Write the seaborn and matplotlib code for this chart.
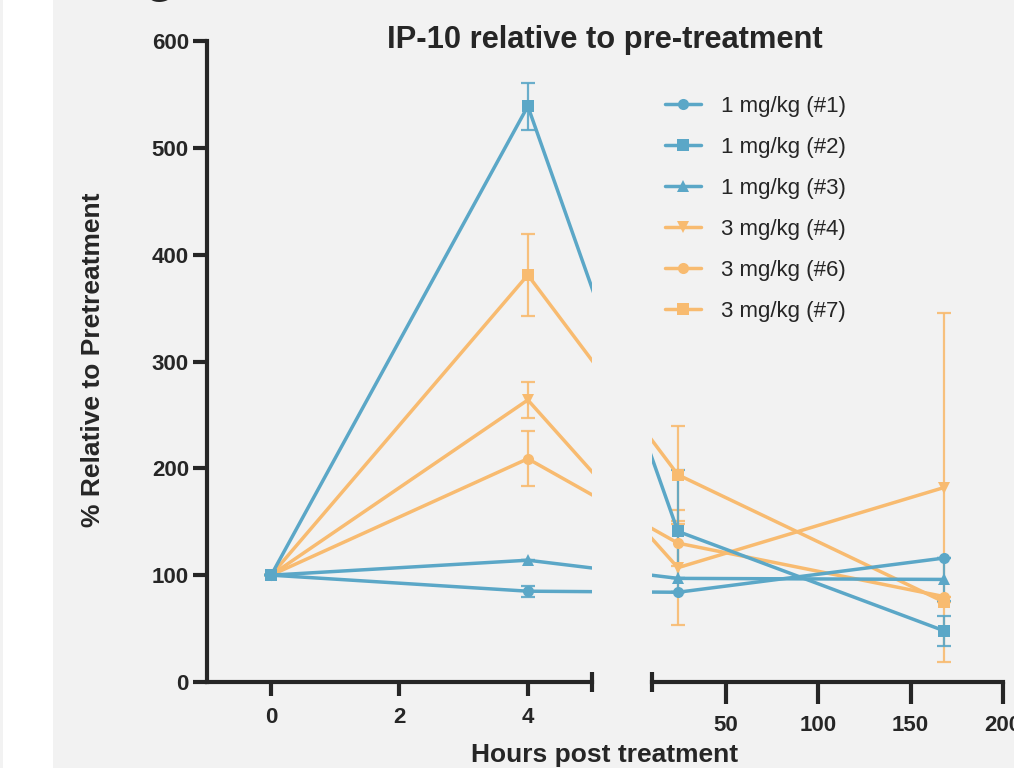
import numpy as np
import pandas as pd
import seaborn as sns
import matplotlib
import matplotlib.pyplot as plt
from matplotlib.lines import Line2D
from matplotlib.patches import Rectangle

# data (hours post treatment, % of pretreatment, error)
hours = [0, 4, 24, 168]
series = ["1 mg/kg (#1)", "1 mg/kg (#2)", "1 mg/kg (#3)",
          "3 mg/kg (#4)", "3 mg/kg (#6)", "3 mg/kg (#7)"]
s1 = [100, 85, 84, 116]
s2 = [100, 539, 141, 48]
s3 = [100, 114, 97, 96]
s4 = [100, 264, 107, 182]
s6 = [100, 209, 130, 80]
s7 = [100, 381, 194, 75]
e1 = [0, 5, 0, 0]
e2 = [0, 22, 57, 14]
e3 = [0, 0, 0, 20]
e4 = [0, 17, 54, 163]
e6 = [0, 26, 21, 0]
e7 = [0, 38, 46, 0]

values = [s1, s2, s3, s4, s6, s7]
errors = [e1, e2, e3, e4, e6, e7]
blue = "#5ba7c7"
orange = "#f8bb70"
colors = [blue, blue, blue, orange, orange, orange]
markers = ["o", "s", "^", "v", "o", "s"]

rows = []
for name, v, e in zip(series, values, errors):
    for h, y, err in zip(hours, v, e):
        rows.append((name, h, y, err))
df = pd.DataFrame(rows, columns=["series", "hours", "value", "err"])

# broken x axis: 0-5 h on the left segment, 10-200 h compressed on the right,
# lines crossing the gap are straight in screen space (like GraphPad)
W, H = 1014, 768
PX = 385 / 6.0             # pixels per hour on the left segment
GAP = 60 / PX              # gap between segments
K = 351 / (190 * PX)       # compression of the right segment


def fwd(h):
    h = np.asarray(h, dtype=float)
    return np.where(h <= 5, h,
                    np.where(h >= 10, 5 + GAP + (h - 10) * K,
                             5 + (h - 5) * GAP / 5))


def inv(u):
    u = np.asarray(u, dtype=float)
    return np.where(u <= 5, u,
                    np.where(u >= 5 + GAP, 10 + (u - 5 - GAP) / K,
                             5 + (u - 5) * 5 / GAP))


sns.set_style("ticks")
bg = "#f2f2f2"
plt.rcParams['font.family'] = ['Liberation Sans', 'DejaVu Sans']
plt.rcParams['axes.facecolor'] = bg

fig = plt.figure(figsize=(W / 100, H / 100), dpi=100, facecolor=bg)
fig.patches.append(Rectangle((3 / W, 0), 50 / W, 1, transform=fig.transFigure,
                             facecolor="white", edgecolor="none", zorder=0))

axL = fig.add_axes([207 / W, 86 / H, 385 / W, 641 / H])
axR = fig.add_axes([652 / W, 86 / H, 351 / W, 641 / H])

pal = dict(zip(series, colors))
mk = dict(zip(series, markers))

for ax in (axL, axR):
    ax.set_facecolor(bg)
    # error bars first, reverse order so #1 ends up on top
    for name, v, e, c in reversed(list(zip(series, values, errors, colors))):
        ax.errorbar(hours, v, yerr=e, fmt="none", ecolor=c, elinewidth=1.6,
                    capsize=5, capthick=1.6, alpha=0.9, zorder=2)
    sns.lineplot(data=df, x="hours", y="value", hue="series", style="series",
                 hue_order=series[::-1], style_order=series[::-1],
                 palette=pal, markers=mk, dashes=False, errorbar=None,
                 linewidth=2.5, markersize=8, markeredgewidth=0,
                 legend=False, ax=ax, zorder=3)
    ax.set_xscale("function", functions=(fwd, inv))
    ax.set_xlabel("")
    ax.set_ylabel("")
    ax.set_ylim(0, 600)
    for s in ("top", "right"):
        ax.spines[s].set_visible(False)
    ax.spines["bottom"].set_linewidth(3)
    ax.spines["left"].set_linewidth(3)

axL.set_xlim(-1, 5)
axL.set_xticks([0, 2, 4])
axL.set_xticklabels(["0", "2", "4"])
axL.set_xticks([5], minor=True)
axL.set_yticks([0, 100, 200, 300, 400, 500, 600])
axL.tick_params(axis="both", which="major", length=10, width=3, labelsize=16)
axL.tick_params(axis="x", pad=8)
axL.tick_params(axis="y", pad=3)
axL.tick_params(axis="x", which="minor", direction="inout", length=14, width=3)
for lab in axL.get_xticklabels() + axL.get_yticklabels():
    lab.set_fontweight("bold")

axR.set_xlim(10, 200)
axR.set_xticks([50, 100, 150, 200])
axR.set_xticklabels(["50", "100", "150", "200"])
axR.set_xticks([10], minor=True)
axR.set_xticklabels([""], minor=True)
axR.spines["left"].set_visible(False)
axR.set_yticks([])
axR.tick_params(axis="x", which="major", length=16, width=3, labelsize=16, pad=8)
axR.tick_params(axis="x", which="minor", direction="inout", length=14, width=3)
for lab in axR.get_xticklabels():
    lab.set_fontweight("bold")

handles = [Line2D([], [], color=c, marker=m, linewidth=2.5, markersize=8,
                  markeredgewidth=0) for c, m in zip(colors, markers)]
fig.legend(handles, series, loc="upper left",
           bbox_to_anchor=(665 / W, 1 - 96 / H), frameon=False,
           fontsize=16, handlelength=1.6, handletextpad=0.9,
           labelspacing=0.9, borderpad=0, borderaxespad=0)

fig.text(605 / W, 1 - 48 / H, "IP-10 relative to pre-treatment",
         ha="center", va="baseline", fontsize=22.2, fontweight="bold")
fig.text(605 / W, 1 - 762 / H, "Hours post treatment",
         ha="center", va="baseline", fontsize=19, fontweight="bold")
fig.text(93 / W, 1 - 360 / H, "% Relative to Pretreatment", rotation=90,
         ha="center", va="center", fontsize=19, fontweight="bold")
fig.text(159 / W, 1 - 2 / H, "G", ha="center", va="baseline",
         fontsize=26, fontweight="bold")

fig.savefig("out.png", dpi=100, facecolor=bg)
